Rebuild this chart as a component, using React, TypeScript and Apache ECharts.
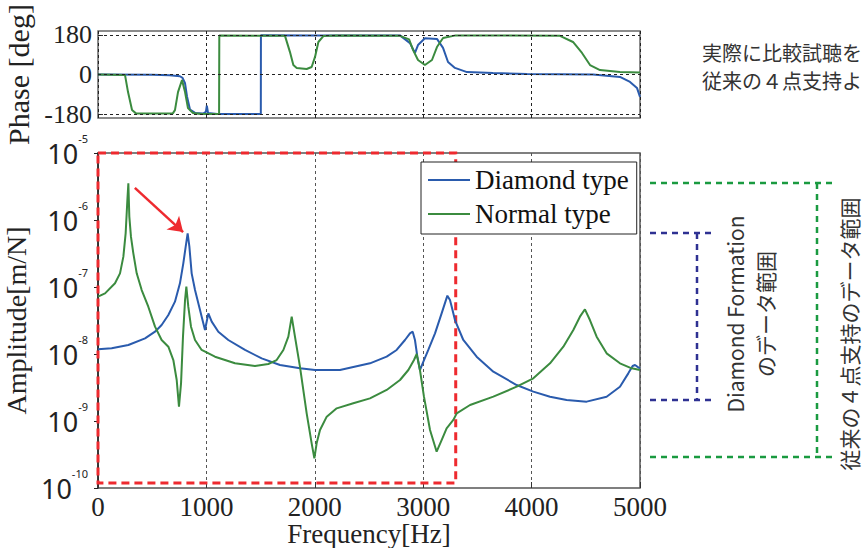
import React, { useEffect, useRef } from 'react';
import * as echarts from 'echarts';

// ---------- data ----------
const freqTicks = [0, 1000, 2000, 3000, 4000, 5000];
const phaseTicks = [-180, 0, 180];
const seriesNames = ['Diamond type', 'Normal type'];

// Phase [deg]: [frequency Hz, phase deg]
const diamondPhase: number[][] = [
  [0, 0], [500, -1], [660, -3], [756, -8], [780, -15], [803, -40], [821, -100], [849, -160],
  [895, -175], [970, -178], [995, -170], [1004, -142], [1015, -175], [1100, -180], [1502, -180],
  [1503, 179], [2000, 178], [2786, 178], [2878, 143], [2924, 98], [2952, 134], [3016, 165],
  [3127, 162], [3183, 121], [3229, 57], [3293, 30], [3404, 11], [3644, 7], [3958, 2],
  [4567, 0], [4815, -11], [4908, -34], [4972, -61], [5000, -102],
];
const normalPhase: number[][] = [
  [0, 0], [249, -2], [277, -80], [314, -162], [350, -177], [690, -177], [710, -162], [738, -80],
  [775, -25], [803, -80], [830, -153], [876, -175], [950, -180], [1117, -180], [1119, 177],
  [1725, 176], [1771, 102], [1802, 43], [1833, 30], [1925, 25], [1971, 34], [2002, 80],
  [2033, 148], [2079, 175], [2200, 178], [2786, 176], [2870, 160], [2906, 112], [2952, 66],
  [3016, 43], [3081, 66], [3127, 125], [3183, 166], [3300, 178], [4262, 176], [4382, 148],
  [4465, 98], [4539, 43], [4631, 20], [4815, 11], [5000, 9],
];

// Amplitude: [frequency Hz, log10(amplitude m/N)]
const diamondAmpLog: number[][] = [
  [0, -7.93], [126, -7.915], [280, -7.866], [434, -7.766], [526, -7.667], [587, -7.567],
  [649, -7.418], [710, -7.219], [756, -6.945], [787, -6.647], [809, -6.398], [827, -6.199],
  [843, -6.398], [864, -6.796], [895, -7.045], [941, -7.343], [987, -7.642], [1018, -7.393],
  [1049, -7.517], [1110, -7.667], [1202, -7.791], [1356, -7.94], [1510, -8.065], [1679, -8.164],
  [1863, -8.214], [2002, -8.239], [2232, -8.239], [2509, -8.139], [2663, -8.04], [2755, -7.94],
  [2832, -7.791], [2878, -7.692], [2903, -7.667], [2924, -7.791], [2946, -8.04], [2970, -8.239],
  [2995, -8.139], [3047, -7.94], [3109, -7.692], [3170, -7.393], [3223, -7.129], [3247, -7.194],
  [3263, -7.294], [3293, -7.493], [3370, -7.791], [3493, -8.04], [3647, -8.264], [3862, -8.463],
  [4016, -8.562], [4170, -8.637], [4323, -8.687], [4508, -8.711], [4692, -8.637], [4815, -8.488],
  [4892, -8.289], [4932, -8.179], [4954, -8.164], [4984, -8.199], [5000, -8.214],
];
const normalAmpLog: number[][] = [
  [0, -7.144], [65, -7.095], [157, -6.945], [203, -6.796], [234, -6.547], [255, -6.199],
  [271, -5.701], [280, -5.453], [289, -5.95], [304, -6.249], [326, -6.498], [357, -6.796],
  [403, -7.045], [464, -7.294], [526, -7.592], [587, -7.791], [649, -7.891], [695, -8.09],
  [726, -8.388], [747, -8.786], [766, -8.438], [784, -7.741], [803, -7.194], [815, -6.995],
  [833, -7.294], [858, -7.592], [895, -7.791], [956, -7.94], [1079, -8.04], [1264, -8.139],
  [1448, -8.179], [1571, -8.149], [1648, -8.09], [1710, -7.94], [1756, -7.741], [1787, -7.443],
  [1817, -7.741], [1863, -8.189], [1925, -8.886], [1971, -9.333], [1996, -9.557], [2017, -9.333],
  [2048, -9.134], [2110, -8.935], [2202, -8.811], [2355, -8.736], [2509, -8.662], [2663, -8.537],
  [2786, -8.388], [2863, -8.239], [2915, -8.09], [2940, -8.0], [2970, -8.239], [3007, -8.637],
  [3063, -9.134], [3124, -9.458], [3170, -9.284], [3216, -9.109], [3278, -8.985], [3309, -8.886],
  [3432, -8.761], [3647, -8.637], [3862, -8.488], [4016, -8.363], [4170, -8.139], [4293, -7.891],
  [4385, -7.642], [4446, -7.443], [4492, -7.333], [4538, -7.493], [4600, -7.741], [4692, -7.99],
  [4815, -8.139], [4923, -8.214], [5000, -8.239],
];

// annotation ranges
const redRangeFreq = [0, 3300];
const redRangeLog = [-5, -9.925];
const arrowFrom = [340, -5.52];
const arrowTo = [785, -6.18];

const BLUE = '#2a5bad';
const GREEN = '#3b8b3f';
const RED = '#ee2a2f';
const SERIF = '"Liberation Serif", "Times New Roman", serif';
const SANS = '"Noto Sans", sans-serif';
const CJK = '"Noto Sans CJK JP", "Noto Sans", sans-serif';

const toAmp = (pts: number[][]) => pts.map(([f, l]) => [f, Math.pow(10, l)]);

export default function App() {
  const ref = useRef<HTMLDivElement>(null);
  useEffect(() => {
    if (!ref.current) return;
    const chart = echarts.init(ref.current, undefined, { renderer: 'svg' });
    const dashedGuide = { type: [3, 3] as number[], color: '#222', width: 1 };
    chart.setOption({
      animation: false,
      backgroundColor: '#fff',
      grid: [
        { left: 98, top: 31, width: 542, height: 87, show: true, borderColor: '#666', borderWidth: 1.5, containLabel: false, outerBoundsMode: 'none' },
        { left: 98, top: 153, width: 542, height: 335, show: true, borderColor: '#555', borderWidth: 1.5, containLabel: false, outerBoundsMode: 'none' },
      ],
      legend: {
        data: seriesNames,
        orient: 'vertical',
        left: 421,
        top: 162,
        padding: [3, 8, 5, 7],
        itemGap: 4,
        itemWidth: 42,
        itemHeight: 2,
        icon: 'rect',
        backgroundColor: '#fff',
        borderColor: '#222',
        borderWidth: 1,
        borderRadius: 0,
        selectedMode: false,
        textStyle: { fontFamily: SERIF, fontSize: 27, color: '#111', lineHeight: 30 },
      },
      xAxis: [
        {
          gridIndex: 0, type: 'value', min: freqTicks[0], max: freqTicks[freqTicks.length - 1], interval: 1000,
          axisLabel: { show: false }, axisTick: { show: false }, axisLine: { show: false },
          splitLine: { show: true, lineStyle: dashedGuide },
        },
        {
          gridIndex: 1, type: 'value', min: freqTicks[0], max: freqTicks[freqTicks.length - 1], interval: 1000,
          axisLine: { show: false },
          axisTick: { show: true, inside: true, length: 6, lineStyle: { color: '#333' } },
          splitLine: { show: true, lineStyle: { type: [3, 3], color: '#555', width: 1 } },
          axisLabel: { fontFamily: SERIF, fontSize: 27, color: '#222', margin: 5, formatter: (v: number) => String(v) },
          name: 'Frequency[Hz]', nameLocation: 'middle', nameGap: 32, nameMoveOverlap: false,
          nameTextStyle: { fontFamily: SERIF, fontSize: 27, color: '#222' },
        },
      ],
      yAxis: [
        {
          gridIndex: 0, type: 'value', min: -198, max: 198,
          axisLine: { show: false }, splitLine: { show: false },
          axisTick: { show: true, inside: true, length: 5, customValues: phaseTicks, lineStyle: { color: '#333' } },
          axisLabel: { customValues: phaseTicks, fontFamily: SERIF, fontSize: 26, color: '#222', margin: 6 },
          name: 'Phase [deg]', nameLocation: 'middle', nameGap: 56,
          nameTextStyle: { fontFamily: SERIF, fontSize: 30, color: '#222' },
        },
        {
          gridIndex: 1, type: 'log', logBase: 10, min: 1e-10, max: 1e-5, splitNumber: 5,
          axisLine: { show: true, lineStyle: { color: '#222', width: 1.5 } },
          axisTick: { show: true, length: 4, lineStyle: { color: '#222' } },
          splitLine: { show: false },
          axisLabel: {
            margin: 10,
            formatter: (v: number) => `{b|10}{s|${Math.round(Math.log10(v))}}`,
            rich: {
              b: { fontFamily: SANS, fontSize: 27, lineHeight: 40, color: '#222' },
              s: { fontFamily: SANS, fontSize: 11, lineHeight: 11, verticalAlign: 'top', color: '#222' },
            },
          },
          name: 'Amplitude[m/N]', nameLocation: 'middle', nameGap: 60,
          nameTextStyle: { fontFamily: SERIF, fontSize: 28, color: '#222' },
        },
      ],
      series: [
        {
          type: 'line', name: seriesNames[0], xAxisIndex: 0, yAxisIndex: 0, data: diamondPhase,
          symbol: 'none', lineStyle: { color: BLUE, width: 2 }, itemStyle: { color: BLUE },
          markLine: {
            silent: true, symbol: ['none', 'none'], label: { show: false },
            lineStyle: dashedGuide,
            data: phaseTicks.map((t) => ({ yAxis: t })),
          },
        },
        {
          type: 'line', name: seriesNames[1], xAxisIndex: 0, yAxisIndex: 0, data: normalPhase,
          symbol: 'none', lineStyle: { color: GREEN, width: 2 }, itemStyle: { color: GREEN },
        },
        {
          type: 'line', name: seriesNames[0], xAxisIndex: 1, yAxisIndex: 1, data: toAmp(diamondAmpLog),
          symbol: 'none', lineStyle: { color: BLUE, width: 2 }, itemStyle: { color: BLUE },
        },
        {
          type: 'line', name: seriesNames[1], xAxisIndex: 1, yAxisIndex: 1, data: toAmp(normalAmpLog),
          symbol: 'none', lineStyle: { color: GREEN, width: 2 }, itemStyle: { color: GREEN },
          markArea: {
            silent: true,
            itemStyle: { color: 'rgba(0,0,0,0)', borderColor: RED, borderWidth: 3, borderType: [8, 5] },
            data: [[
              { xAxis: redRangeFreq[0], yAxis: Math.pow(10, redRangeLog[0]) },
              { xAxis: redRangeFreq[1], yAxis: Math.pow(10, redRangeLog[1]) },
            ]],
          },
          markLine: {
            silent: true, symbol: ['none', 'arrow'], symbolSize: 14, label: { show: false },
            lineStyle: { color: RED, width: 2.5, type: 'solid' },
            data: [[
              { coord: [arrowFrom[0], Math.pow(10, arrowFrom[1])] },
              { coord: [arrowTo[0], Math.pow(10, arrowTo[1])] },
            ]],
          },
        },
      ],
      graphic: [
        { type: 'text', style: { text: '実際に比較試聴を', x: 702, y: 52, fill: '#333', font: `20px ${CJK}`, textVerticalAlign: 'middle' } },
        { type: 'text', style: { text: '従来の４点支持よ', x: 702, y: 80, fill: '#333', font: `20px ${CJK}`, textVerticalAlign: 'middle' } },
        // navy bracket
        { type: 'line', shape: { x1: 650, y1: 233, x2: 715, y2: 233 }, style: { stroke: '#2e3192', lineWidth: 2.5, lineDash: [6, 5] } },
        { type: 'line', shape: { x1: 650, y1: 400, x2: 715, y2: 400 }, style: { stroke: '#2e3192', lineWidth: 2.5, lineDash: [6, 5] } },
        { type: 'line', shape: { x1: 697, y1: 233, x2: 697, y2: 400 }, style: { stroke: '#2e3192', lineWidth: 2.5, lineDash: [6, 5] } },
        // green bracket
        { type: 'line', shape: { x1: 650, y1: 183, x2: 837, y2: 183 }, style: { stroke: '#1a9a40', lineWidth: 2.5, lineDash: [6, 5] } },
        { type: 'line', shape: { x1: 650, y1: 457, x2: 837, y2: 457 }, style: { stroke: '#1a9a40', lineWidth: 2.5, lineDash: [6, 5] } },
        { type: 'line', shape: { x1: 817, y1: 183, x2: 817, y2: 457 }, style: { stroke: '#1a9a40', lineWidth: 2.5, lineDash: [6, 5] } },
        {
          type: 'text', x: 750, y: 314, rotation: Math.PI / 2,
          style: { text: 'Diamond Formation\nのデータ範囲', x: 0, y: 0, fill: '#333', font: `21px ${CJK}`, textAlign: 'center', textVerticalAlign: 'middle', lineHeight: 30 },
        },
        {
          type: 'text', x: 849, y: 334, rotation: Math.PI / 2,
          style: { text: '従来の４点支持のデータ範囲', x: 0, y: 0, fill: '#333', font: `21px ${CJK}`, textAlign: 'center', textVerticalAlign: 'middle' },
        },
      ],
    });
    return () => chart.dispose();
  }, []);
  return <div ref={ref} style={{ position: 'fixed', left: 0, top: 0, width: 862, height: 548 }} />;
}
